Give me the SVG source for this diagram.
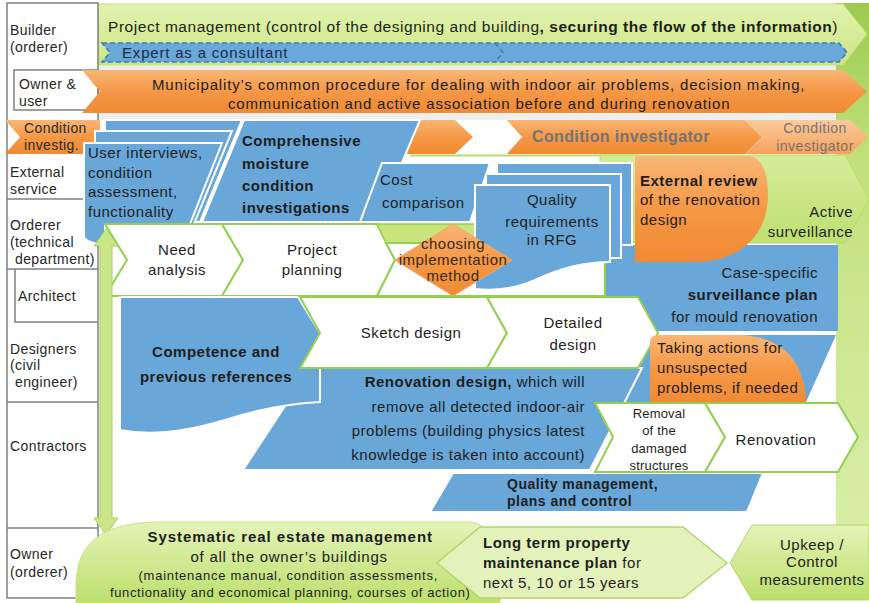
<svg xmlns="http://www.w3.org/2000/svg" width="869" height="603" viewBox="0 0 869 603">
<defs>
<linearGradient id="gTop" x1="0" y1="0" x2="0" y2="1"><stop offset="0" stop-color="#e2f2b0"/><stop offset="1" stop-color="#cce681"/></linearGradient>
<linearGradient id="gOr" x1="0" y1="0" x2="0" y2="1"><stop offset="0" stop-color="#f9b676"/><stop offset="0.5" stop-color="#f59846"/><stop offset="1" stop-color="#f08a33"/></linearGradient>
<linearGradient id="gOrL" x1="0" y1="0" x2="0" y2="1"><stop offset="0" stop-color="#fbcb9c"/><stop offset="1" stop-color="#f5a25c"/></linearGradient>
<linearGradient id="gCol" x1="0" y1="0" x2="0" y2="1"><stop offset="0" stop-color="#9ccb4f"/><stop offset="0.3" stop-color="#c2e07d"/><stop offset="1" stop-color="#d8eea6"/></linearGradient>
<linearGradient id="gGr" x1="0" y1="0" x2="0" y2="1"><stop offset="0" stop-color="#e4f3b8"/><stop offset="1" stop-color="#bcdf6c"/></linearGradient>
<linearGradient id="gGr2" x1="0" y1="0" x2="0" y2="1"><stop offset="0" stop-color="#d4ec98"/><stop offset="1" stop-color="#bfe073"/></linearGradient>
<style>
.t{font-family:"Liberation Sans",Arial,sans-serif;font-size:15px;fill:#1e1e1e;letter-spacing:0.5px}
.b{font-weight:bold}
.l{font-size:14px;letter-spacing:0.4px;fill:#262626}
.s{font-size:13px;letter-spacing:0.2px}
.g{fill:#747474}
.m{text-anchor:middle}
.e{text-anchor:end}
.blue{fill:#68a7d8;stroke:#fff;stroke-width:2}
.chev{fill:#fff;stroke:#92d050;stroke-width:2}
.or{fill:url(#gOr)}
.lane{fill:none;stroke:#808080;stroke-width:1.5}
</style>
</defs>
<rect width="869" height="603" fill="#fff"/>
<rect x="98" y="63" width="740" height="57" fill="#eeeeee"/>

<g id="right-column"><rect x="836" y="3" width="33" height="522" fill="url(#gCol)"/></g>

<g id="project-management">
<path d="M98,4 L843,4 L867,34 L843,65 L98,65 Z" fill="url(#gTop)" stroke="#c4e07a" stroke-width="1"/>
<text class="t" x="108" y="32" style="font-size:15.5px" textLength="730" lengthAdjust="spacing">Project management (control of the designing and building<tspan class="b">, securing the flow of the information</tspan>)</text>
</g>

<g id="expert">
<path d="M102,43 L839,43 L847,52.5 L839,62 L102,62 L110,52.5 Z" fill="#6aa8d9" stroke="#3b7cc0" stroke-width="1.5" stroke-dasharray="5,3"/>
<polyline points="495,43 503,52.5 495,62" fill="none" stroke="#3b7cc0" stroke-width="1.5" stroke-dasharray="5,3"/>
<text class="t" x="122" y="58" style="fill:#1c2b4a" textLength="166" lengthAdjust="spacing">Expert as a consultant</text>
</g>

<g id="lanes">
<rect x="7" y="3" width="91" height="595" fill="#fff" class="lane"/>
<rect x="14" y="70" width="84" height="40" fill="#fff" class="lane"/>
<line x1="7" y1="199" x2="98" y2="199" class="lane"/>
<line x1="7" y1="269" x2="98" y2="269" class="lane"/>
<polyline points="15,269 15,322 98,322" class="lane"/>
<line x1="7" y1="402" x2="98" y2="402" class="lane"/>
<line x1="7" y1="528" x2="98" y2="528" class="lane"/>
<text class="t l" x="10" y="35">Builder</text>
<text class="t l" x="10" y="52">(orderer)</text>
<text class="t l" x="19" y="89">Owner &amp;</text>
<text class="t l" x="19" y="106">user</text>
<text class="t l" x="10" y="177">External</text>
<text class="t l" x="10" y="194">service</text>
<text class="t l" x="10" y="230">Orderer</text>
<text class="t l" x="10" y="247">(technical</text>
<text class="t l" x="15" y="264">department)</text>
<text class="t l" x="18" y="301">Architect</text>
<text class="t l" x="10" y="354">Designers</text>
<text class="t l" x="10" y="370">(civil</text>
<text class="t l" x="15" y="387">engineer)</text>
<text class="t l" x="10" y="451">Contractors</text>
<text class="t l" x="10" y="559">Owner</text>
<text class="t l" x="10" y="577">(orderer)</text>
</g>

<g id="municipality">
<path d="M82,70 L843,70 L867,91.5 L843,113 L82,113 L100,91.5 Z" class="or"/>
<text class="t" x="152" y="90" textLength="653" lengthAdjust="spacing">Municipality’s common procedure for dealing with indoor air problems, decision making,</text>
<text class="t" x="228" y="109" textLength="502" lengthAdjust="spacing">communication and active association before and during renovation</text>
</g>

<g id="condition-investig">
<path d="M5,120 L100,120 L100,154 L5,154 L20,137 Z" class="or"/>
<text class="t l" x="24" y="133" style="fill:#2a2a2a">Condition</text>
<text class="t l" x="24" y="150" style="fill:#2a2a2a">investig.</text>
</g>
<g id="condition-arrow"><path d="M400,120 L455,120 L473,137 L455,154 L400,154 Z" class="or"/></g>
<g id="condition-investigator">
<path d="M507,120 L745,120 L762,137 L745,154 L507,154 L522,137 Z" class="or"/>
<text class="t b g" x="532" y="142" style="font-size:16px" textLength="178" lengthAdjust="spacing">Condition investigator</text>
</g>
<g id="condition-investigator-2">
<path d="M745,120 L850,120 L868,137 L850,154 L745,154 L762,137 Z" fill="url(#gOrL)"/>
<text class="t g m" x="815" y="133" style="font-size:14px">Condition</text>
<text class="t g m" x="815" y="151" style="font-size:14px">investigator</text>
</g>

<g id="active-surveillance">
<line x1="410" y1="155.5" x2="640" y2="155.5" stroke="#b7da6c" stroke-width="2"/>
<path d="M600,155 L845,155 L869,199 L845,243 L600,243 Z" fill="url(#gGr2)" stroke="#b7da6c" stroke-width="1"/>
<text class="t e" x="853" y="217">Active</text>
<text class="t e" x="853" y="237">surveillance</text>
</g>

<g id="surveillance-plan">
<path d="M598,245 L838,245 L838,331 L598,331 Z" fill="#68a7d8"/>
<path d="M640,335 L836,335 L806,402 L600,402 Z" fill="#68a7d8"/>
<text class="t e" x="818" y="278">Case-specific</text>
<text class="t e b" x="818" y="300">surveillance plan</text>
<text class="t e" x="818" y="322">for mould renovation</text>
</g>

<g id="renovation-design">
<path d="M310,368 L642,368 L590,470 L243,470 Z" class="blue"/>
<text class="t e" x="585" y="387"><tspan class="b">Renovation design,</tspan> which will</text>
<text class="t e" x="585" y="412">remove all detected indoor-air</text>
<text class="t e" x="585" y="436">problems (building physics latest</text>
<text class="t e" x="585" y="460">knowledge is taken into account)</text>
</g>

<g id="quality-management">
<path d="M453,473 L763,473 L747,512 L430,512 Z" class="blue"/>
<text class="t b" x="507" y="489" style="font-size:14px">Quality management,</text>
<text class="t b" x="507" y="506" style="font-size:14px">plans and control</text>
</g>

<g id="user-interviews">
<path d="M105,120 L242,120 L200,222 L105,222 Z" class="blue"/>
<path d="M95,131 L232,131 L194,224 L95,224 Z" class="blue"/>
<path d="M84,143 L222,143 L190,224 L105,224 L105,245 C95,244 88,242 84,238 Z" class="blue"/>
<text class="t" x="88" y="158">User interviews,</text>
<text class="t" x="88" y="178">condition</text>
<text class="t" x="88" y="197">assessment,</text>
<text class="t" x="88" y="217">functionality</text>
</g>

<g id="moisture-investigations">
<path d="M244,120 L420,120 L377,222 L202,222 Z" class="blue"/>
<text class="t b" x="242" y="146">Comprehensive</text>
<text class="t b" x="242" y="169">moisture</text>
<text class="t b" x="242" y="191">condition</text>
<text class="t b" x="242" y="213">investigations</text>
</g>

<g id="cost-comparison">
<path d="M382,163 L490,163 L470,222 L360,222 Z" class="blue"/>
<text class="t" x="380" y="185">Cost</text>
<text class="t" x="382" y="208">comparison</text>
</g>

<g id="need-analysis">
<path d="M105,224 L222,224 L243,260 L222,296 L105,296 L127,260 Z" class="chev"/>
<text class="t m" x="177" y="255">Need</text>
<text class="t m" x="177" y="275">analysis</text>
</g>
<g id="project-planning">
<path d="M222,224 L377,224 L395,260 L377,296 L222,296 L243,260 Z" class="chev"/>
<text class="t m" x="312" y="255">Project</text>
<text class="t m" x="312" y="275">planning</text>
</g>
<g id="implementation-row">
<path d="M377,224 L480,224 L480,243 L386,243 Z" fill="#c9e47c" stroke="#92d050" stroke-width="1.5"/>
<path d="M386,243 L605,243 L605,296 L377,296 L395,260 Z" class="chev"/>
</g>

<g id="quality-requirements">
<rect x="497" y="163" width="135" height="82" class="blue"/>
<rect x="486" y="174" width="135" height="84" class="blue"/>
<path d="M475,185 L610,185 L610,262 C585,262 560,268 535,280 C515,289 495,291 475,289 Z" class="blue"/>
<text class="t m" x="552" y="205">Quality</text>
<text class="t m" x="552" y="227">requirements</text>
<text class="t m" x="552" y="245">in RFG</text>
</g>

<g id="choosing-method">
<path d="M395,260 L453,224 L512,260 L453,296 Z" class="or" stroke="#f4a868" stroke-width="1"/>
<text class="t m" x="453" y="249" style="fill:#3a2a1a">choosing</text>
<text class="t m" x="453" y="265" style="fill:#3a2a1a">implementation</text>
<text class="t m" x="453" y="281" style="fill:#3a2a1a">method</text>
</g>

<g id="external-review">
<path d="M635,156 L750,156 Q768,160 768,195 C768,235 740,262 695,262 L635,262 Z" class="or"/>
<text class="t b" x="640" y="186">External review</text>
<text class="t" x="640" y="205">of the renovation</text>
<text class="t" x="640" y="225">design</text>
</g>

<g id="competence">
<path d="M120,297 L298,297 L320,333 L320,402 C285,404 255,410 225,420 C185,432 150,436 120,430 Z" class="blue"/>
<text class="t b m" x="216" y="357">Competence and</text>
<text class="t b m" x="216" y="382">previous references</text>
</g>

<g id="sketch-design">
<path d="M300,297 L487,297 L507,333 L487,368 L300,368 L320,333 Z" class="chev"/>
<text class="t m" x="411" y="338">Sketch design</text>
</g>
<g id="detailed-design">
<path d="M487,297 L638,297 L658,333 L638,368 L487,368 L507,333 Z" class="chev"/>
<text class="t m" x="573" y="328">Detailed</text>
<text class="t m" x="573" y="350">design</text>
</g>

<g id="unsuspected-problems">
<path d="M650,405 L650,343 Q650,335 658,335 L742,335 C790,338 806,370 806,405 Z" class="or"/>
<text class="t" x="657" y="353">Taking actions for</text>
<text class="t" x="657" y="373">unsuspected</text>
<text class="t" x="657" y="393">problems, if needed</text>
</g>

<g id="removal">
<path d="M595,403 L705,403 L725,437 L705,472 L595,472 L613,437 Z" class="chev"/>
<text class="t m s" x="659" y="418">Removal</text>
<text class="t m s" x="659" y="435">of the</text>
<text class="t m s" x="659" y="453">damaged</text>
<text class="t m s" x="659" y="470">structures</text>
</g>
<g id="renovation">
<path d="M705,403 L838,403 L858,437 L838,472 L705,472 L725,437 Z" class="chev"/>
<text class="t m" x="776" y="445">Renovation</text>
</g>

<g id="connectors">
<path d="M106,229 L118,246 L112,246 L112,518 L118,518 L106,535 L94,518 L100,518 L100,246 L94,246 Z" fill="#cbe589" stroke="#a9d35b" stroke-width="1"/>
</g>

<g id="real-estate-management">
<path d="M76,603 L76,585 C76,545 100,522 160,522 L470,522 C492,522 502,560 500,603 Z" fill="url(#gGr)" stroke="#c8e48a" stroke-width="1"/>
<text class="t b m" x="290" y="542" textLength="285" lengthAdjust="spacing">Systematic real estate management</text>
<text class="t m" x="289" y="562" textLength="197" lengthAdjust="spacing">of all the owner’s buildings</text>
<text class="t s m" x="288" y="580" textLength="299" lengthAdjust="spacing">(maintenance manual, condition assessments,</text>
<text class="t s m" x="290" y="597" textLength="360" lengthAdjust="spacing">functionality and economical planning, courses of action)</text>
</g>

<g id="maintenance-plan">
<path d="M480,527 L683,527 L727,563 L683,598 L480,598 L437,563 Z" fill="#e3f2ba" stroke="#b2d76a" stroke-width="1.5"/>
<text class="t b" x="483" y="548">Long term property</text>
<text class="t" x="483" y="568"><tspan class="b">maintenance plan</tspan> for</text>
<text class="t" x="483" y="588">next 5, 10 or 15 years</text>
</g>

<g id="upkeep">
<path d="M752,525 L869,525 L869,600 L752,600 L730,563 Z" fill="url(#gGr)" stroke="#b2d76a" stroke-width="1"/>
<text class="t m" x="812" y="550">Upkeep /</text>
<text class="t m" x="812" y="567">Control</text>
<text class="t m" x="812" y="585">measurements</text>
</g>
</svg>
